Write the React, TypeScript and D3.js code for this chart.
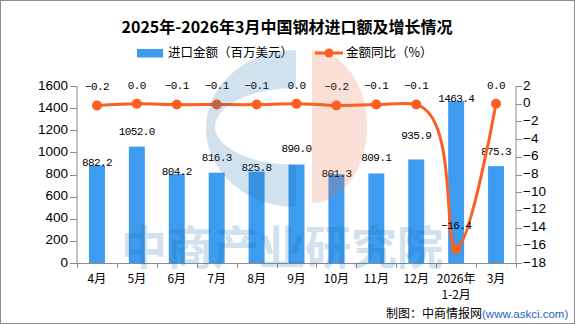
import React from "react";
import * as d3 from "d3";

const categories = ["4月", "5月", "6月", "7月", "8月", "9月", "10月", "11月", "12月", "2026年\n1-2月", "3月"];
const importValue = [882.2, 1052.0, 804.2, 816.3, 825.8, 890.0, 801.3, 809.1, 935.9, 1463.4, 875.3];
const yoyGrowth = [-0.2, 0.0, -0.1, -0.1, -0.1, 0.0, -0.2, -0.1, -0.1, -16.4, 0.0];
const leftTicks = [0, 200, 400, 600, 800, 1000, 1200, 1400, 1600];
const rightTicks = [2, 0, -2, -4, -6, -8, -10, -12, -14, -16, -18];

// label placement tweaks (style, not data)
const barLabelLift = [2, 15, 2, 15, 4, 15, 0, 15, 23, 2, 14];
const lineLabelLift = [18, 18, 18, 18, 18, 18, 18, 18, 18, 23, 18];

const W = 575;
const H = 324;
const L = 77;
const R = 516;
const T = 86;
const B = 263;

const BAR = "#3d9cf0";
const LINE = "#fc5f20";
const AXIS = "#8c8c8c";
const NUM_FONT = "'Liberation Mono', monospace";
const SANS = "'Liberation Sans', Arial, sans-serif";
const CJK = "'Noto Sans CJK SC', sans-serif";

function fmt(v: number) {
  const s = Math.abs(v).toFixed(1);
  return v < 0 ? "\u2212" + s : s;
}
function fmtTick(v: number) {
  return v < 0 ? "\u2212" + Math.abs(v) : String(v);
}

export default function App() {
  const x = d3.scaleBand<string>().domain(categories).range([L, R]).paddingInner(0.6).paddingOuter(0.3);
  const yL = d3.scaleLinear().domain([0, 1600]).range([B, T]);
  const yR = d3.scaleLinear().domain([-18, 2]).range([B, T]);
  const cx = (c: string) => (x(c) as number) + x.bandwidth() / 2;

  const pts: [number, number][] = categories.map((c, i) => [cx(c), yR(yoyGrowth[i])]);
  const linePath = d3.line().curve(d3.curveCatmullRom.alpha(1))(pts) as string;

  const boundaries = d3.range(categories.length + 1).map((i) => L + i * (R - L) / categories.length);

  return (
    <svg width={W} height={H} style={{ position: "absolute", left: 0, top: 0, background: "#fff" }}>
      <rect x={0.5} y={0.5} width={W - 1} height={H - 1} fill="#fff" stroke="#8c8c8c" />

      {/* title */}
      <text x={287} y={29} textAnchor="middle" dominantBaseline="middle" fontFamily={CJK} fontWeight="bold" fontSize={16} fill="#000">
        2025年-2026年3月中国钢材进口额及增长情况
      </text>

      {/* legend */}
      <rect x={137} y={49} width={26} height={8.5} fill={BAR} />
      <text x={168} y={53.5} dominantBaseline="middle" fontFamily={CJK} fontSize={12.5} fill="#000">进口金额（百万美元）</text>
      <line x1={315} x2={343} y1={53} y2={53} stroke={LINE} strokeWidth={3} />
      <circle cx={329} cy={53} r={4.5} fill={LINE} />
      <text x={346} y={53.5} dominantBaseline="middle" fontFamily={CJK} fontSize={12.5} fill="#000">金额同比（%）</text>

      {/* bars */}
      {categories.map((c, i) => (
        <rect key={"b" + i} x={x(c)} y={yL(importValue[i])} width={x.bandwidth()} height={B - yL(importValue[i])} fill={BAR} />
      ))}

      {/* axes */}
      <line x1={L} x2={L} y1={T} y2={B} stroke={AXIS} />
      <line x1={R} x2={R} y1={T} y2={B} stroke={AXIS} />
      <line x1={L - 7} x2={R + 6} y1={B + 0.5} y2={B + 0.5} stroke={AXIS} />
      {leftTicks.map((t) => (
        <g key={"lt" + t}>
          <line x1={L - 7} x2={L} y1={Math.round(yL(t)) + 0.5} y2={Math.round(yL(t)) + 0.5} stroke={AXIS} />
          <text x={L - 9} y={yL(t)} textAnchor="end" dominantBaseline="middle" fontFamily={SANS} fontSize={13.5} fill="#000">{t}</text>
        </g>
      ))}
      {rightTicks.map((t) => (
        <g key={"rt" + t}>
          <line x1={R} x2={R + 6} y1={Math.round(yR(t)) + 0.5} y2={Math.round(yR(t)) + 0.5} stroke={AXIS} />
          <text x={R + 7} y={yR(t)} dominantBaseline="middle" fontFamily={SANS} fontSize={13.5} fill="#000">{fmtTick(t)}</text>
        </g>
      ))}
      {boundaries.map((bx, i) => (
        <line key={"xt" + i} x1={Math.round(bx) + 0.5} x2={Math.round(bx) + 0.5} y1={B} y2={B + 5} stroke={AXIS} />
      ))}
      {categories.map((c, i) => (
        <text key={"xl" + i} x={cx(c)} y={280} textAnchor="middle" dominantBaseline="middle" fontFamily={CJK} fontSize={12} fill="#000">
          {c.split("\n").map((part, k) => (
            <tspan key={k} x={cx(c)} dy={k === 0 ? 0 : 16}>{part}</tspan>
          ))}
        </text>
      ))}

      {/* bar labels */}
      {categories.map((c, i) => (
        <text key={"bl" + i} x={cx(c)} y={yL(importValue[i]) - barLabelLift[i]} textAnchor="middle" dominantBaseline="middle" fontFamily={NUM_FONT} fontSize={11} letterSpacing={-0.6} fill="#000">
          {fmt(importValue[i])}
        </text>
      ))}

      {/* line */}
      <path d={linePath} fill="none" stroke={LINE} strokeWidth={3} />
      {pts.map((p, i) => (
        <circle key={"p" + i} cx={p[0]} cy={p[1]} r={5} fill={LINE} />
      ))}
      {pts.map((p, i) => (
        <text key={"pl" + i} x={p[0]} y={p[1] - lineLabelLift[i]} textAnchor="middle" dominantBaseline="middle" fontFamily={NUM_FONT} fontSize={11} letterSpacing={-0.6} fill="#000">
          {fmt(yoyGrowth[i])}
        </text>
      ))}

      {/* watermark */}
      <g opacity={0.2} style={{ pointerEvents: "none" }}>
        <path
          d={`M296,50 A90,78.5 0 0 0 296,207 L296,165 A81,38.5 0 0 1 296,88 Z`}
          fill="rgb(30,110,170)"
        />
        <path d={`M312,50 A55,76.5 0 0 1 312,203 Z`} fill="rgb(235,105,55)" />
        <text x={282} y={252} textAnchor="middle" dominantBaseline="middle" fontFamily={CJK} fontWeight="bold" fontSize={46} fill="rgb(30,110,170)">
          中商产业研究院
        </text>
      </g>

      {/* source */}
      <text x={386} y={315} dominantBaseline="middle" fontFamily={CJK} fontSize={12} fill="#000">
        制图：中商情报网<tspan fontFamily={SANS} fontSize={11.5} fill="#1f5fbf">(www.askci.com)</tspan>
      </text>
    </svg>
  );
}
